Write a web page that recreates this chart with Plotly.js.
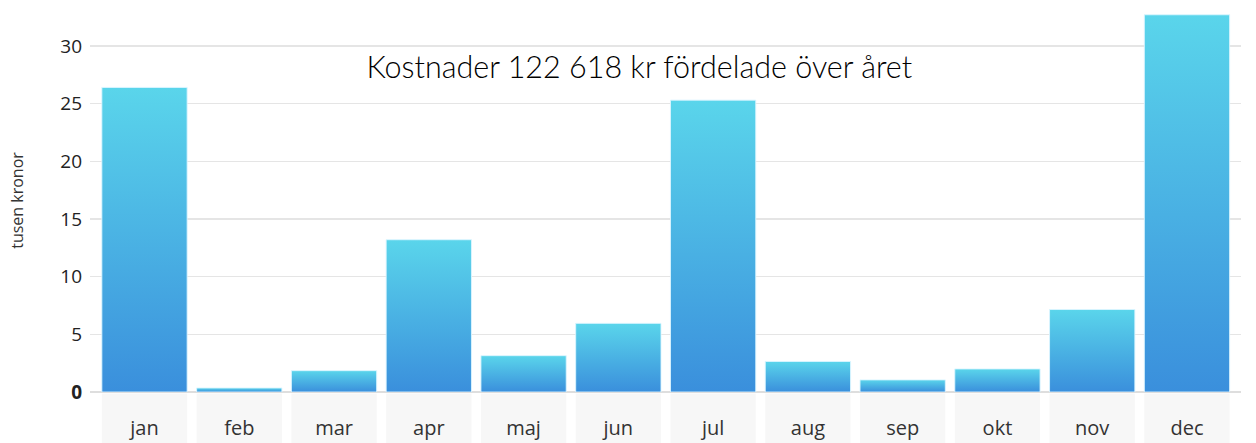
<!DOCTYPE html>
<html>
<head>
<meta charset="utf-8">
<script src="https://cdn.plot.ly/plotly-3.0.1.min.js"></script>
<style>html,body{margin:0;padding:0;background:#fff;}#chart{width:1256px;height:443px;}</style>
</head>
<body>
<div id="chart"></div>
<script>
const months = ["jan","feb","mar","apr","maj","jun","jul","aug","sep","okt","nov","dec"];
const costs = [26.4, 0.35, 1.85, 13.2, 3.15, 5.95, 25.3, 2.65, 1.05, 2.0, 7.15, 32.7];
const yTickVals = [0, 5, 10, 15, 20, 25, 30];
const yTickText = ["<b>0</b>", "5", "10", "15", "20", "25", "30"];
const chartTitle = "Kostnader 122 618 kr fördelade över året";
const yTitle = "tusen kronor";

const xIdx = months.map((m, i) => i);

const trace = {
  type: "bar",
  x: xIdx,
  y: costs,
  marker: { color: "#4ab6e4", line: { color: "rgba(220,245,255,0.9)", width: 1 } },
  hoverinfo: "x+y"
};

const bgShapes = months.map((m, i) => ({
  type: "rect", xref: "x", yref: "paper",
  x0: i - 0.45, x1: i + 0.45, y0: -0.14, y1: -0.004,
  fillcolor: "#f7f7f7", line: { width: 0 }, layer: "below"
}));

const layout = {
  width: 1256, height: 443,
  margin: { l: 90, r: 15, t: 9, b: 51 },
  paper_bgcolor: "#fff", plot_bgcolor: "#fff",
  bargap: 0.1,
  showlegend: false,
  title: {
    text: chartTitle,
    font: { family: "Lato, 'Noto Sans', sans-serif", size: 30.5, weight: 300, color: "#000" },
    x: 0.509, xref: "container", xanchor: "center",
    y: 0.848, yref: "container", yanchor: "middle"
  },
  xaxis: {
    range: [-0.575, 11.57],
    tickvals: xIdx, ticktext: months,
    showgrid: false, zeroline: false, showline: false,
    ticks: "", ticklabelstandoff: 22,
    tickfont: { family: "'Open Sans', sans-serif", size: 20, color: "#333" },
    fixedrange: true
  },
  yaxis: {
    range: [0, 33.2],
    tickvals: yTickVals, ticktext: yTickText,
    showgrid: true, gridcolor: "#e5e5e5", gridwidth: 1.5,
    zeroline: true, zerolinecolor: "#dedede", zerolinewidth: 2,
    showline: false, ticks: "", ticklabelstandoff: 7,
    tickfont: { family: "'Open Sans', sans-serif", size: 19, color: "#222" },
    title: { text: yTitle, standoff: 32, font: { family: "'Open Sans', sans-serif", size: 16, color: "#333" } },
    fixedrange: true
  },
  shapes: bgShapes
};

Plotly.newPlot("chart", [trace], layout, { displayModeBar: false, staticPlot: true }).then(function (gd) {
  const svgNS = "http://www.w3.org/2000/svg";
  const svg = gd.querySelector("svg.main-svg");
  let defs = svg.querySelector("defs");
  if (!defs) { defs = document.createElementNS(svgNS, "defs"); svg.insertBefore(defs, svg.firstChild); }
  const grad = document.createElementNS(svgNS, "linearGradient");
  grad.setAttribute("id", "barGrad");
  grad.setAttribute("x1", "0"); grad.setAttribute("y1", "0");
  grad.setAttribute("x2", "0"); grad.setAttribute("y2", "1");
  [["0%", "#5ad5eb"], ["100%", "#3a8fdc"]].forEach(function (s) {
    const st = document.createElementNS(svgNS, "stop");
    st.setAttribute("offset", s[0]); st.setAttribute("stop-color", s[1]);
    grad.appendChild(st);
  });
  defs.appendChild(grad);
  gd.querySelectorAll(".barlayer .point path").forEach(function (p) {
    p.style.fill = "url(#barGrad)";
    p.style.fillOpacity = "1";
  });
});
</script>
</body>
</html>
